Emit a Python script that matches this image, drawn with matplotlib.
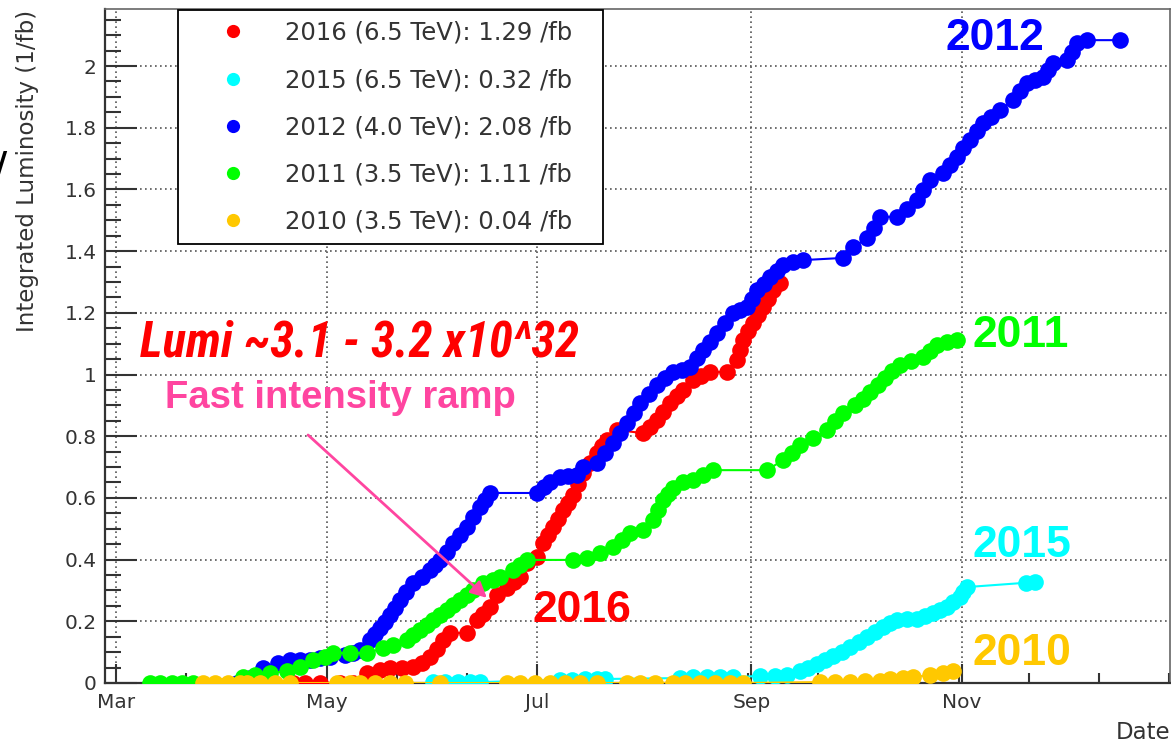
import matplotlib
matplotlib.use('Agg')
import matplotlib.pyplot as plt
from matplotlib.lines import Line2D
from matplotlib.ticker import AutoMinorLocator, MultipleLocator

plt.rcParams['font.family'] = ['DejaVu Sans']

# x = day of year, y = integrated luminosity (1/fb)
day_2016 = [111.3, 114.7, 119.1, 124.9, 128.6, 132.7, 136.5, 139.4, 142.7, 146.0,
            148.5, 150.9, 152.8, 154.7, 156.7, 161.6, 164.5, 166.4, 168.3, 170.3,
            173.2, 175.1, 177.0, 179.0, 181.9, 183.7, 185.1, 186.6, 188.0, 189.4,
            190.8, 192.3, 193.7, 195.2, 197.2, 199.3, 200.7, 202.2, 205.1, 212.6,
            214.6, 216.7, 218.5, 220.4, 222.3, 224.2, 227.1, 229.5, 232.0, 236.9,
            239.8, 240.7, 241.6, 243.0, 244.5, 246.0, 247.4, 248.8, 250.3, 252.3]
lumi_2016 = [0, 0, 0, 0, 0, 0.032, 0.042, 0.049, 0.050, 0.052,
             0.066, 0.084, 0.110, 0.139, 0.162, 0.162, 0.204, 0.225, 0.246, 0.285,
             0.308, 0.326, 0.344, 0.389, 0.408, 0.454, 0.480, 0.506, 0.533, 0.561,
             0.585, 0.609, 0.645, 0.681, 0.713, 0.746, 0.767, 0.788, 0.820, 0.810,
             0.831, 0.853, 0.880, 0.908, 0.929, 0.950, 0.982, 0.995, 1.008, 1.008,
             1.047, 1.080, 1.112, 1.140, 1.167, 1.193, 1.219, 1.246, 1.274, 1.297]

day_2015 = [151.8, 155.3, 159.0, 162.5, 165.4, 188.6, 192.1, 195.8, 199.3, 201.6,
            223.3, 227.1, 231.2, 234.9, 238.7, 246.5, 250.8, 254.3, 258.1, 260.5,
            263.0, 265.3, 267.6, 270.1, 272.6, 275.0, 277.5, 279.8, 282.1, 284.1,
            286.2, 289.1, 292.0, 294.3, 296.6, 298.6, 300.7, 302.5, 304.4, 305.4,
            306.4, 323.5, 326.0]
lumi_2015 = [0.003, 0.003, 0.003, 0.003, 0.003, 0.010, 0.010, 0.013, 0.013, 0.013,
             0.016, 0.019, 0.019, 0.019, 0.019, 0.023, 0.023, 0.026, 0.039, 0.050,
             0.062, 0.075, 0.088, 0.102, 0.117, 0.133, 0.149, 0.165, 0.182, 0.193,
             0.204, 0.206, 0.207, 0.217, 0.227, 0.236, 0.246, 0.262, 0.279, 0.295,
             0.311, 0.325, 0.329]

day_2012 = [95.0, 98.8, 102.6, 106.9, 110.4, 113.3, 116.2, 119.1, 122.0, 126.3,
            128.5, 130.7, 133.6, 135.0, 136.5, 138.0, 139.4, 140.8, 142.2, 144.1,
            146.0, 148.5, 150.9, 152.4, 153.8, 155.7, 157.6, 159.6, 161.6, 163.5,
            165.4, 166.9, 168.3, 181.9, 183.8, 185.7, 188.6, 191.0, 193.5, 195.2,
            199.3, 201.6, 203.9, 206.0, 208.0, 209.9, 211.8, 214.2, 216.7, 219.0,
            221.3, 223.8, 226.2, 228.1, 230.0, 232.0, 234.0, 236.3, 238.7, 240.7,
            242.7, 244.1, 245.6, 247.5, 249.4, 251.3, 253.2, 256.0, 259.0, 270.5,
            273.4, 277.5, 279.4, 281.3, 286.2, 289.1, 292.0, 293.8, 295.7, 299.5,
            301.5, 303.6, 305.4, 307.3, 309.2, 311.1, 313.5, 316.0, 319.8, 321.8,
            323.8, 326.2, 328.5, 329.9, 331.4, 335.4, 336.8, 338.3, 341.2, 350.8]
lumi_2012 = [0, 0.016, 0.049, 0.065, 0.075, 0.075, 0.075, 0.080, 0.084, 0.091,
             0.098, 0.107, 0.139, 0.158, 0.178, 0.199, 0.220, 0.244, 0.269, 0.296,
             0.324, 0.345, 0.366, 0.383, 0.399, 0.425, 0.454, 0.480, 0.506, 0.538,
             0.570, 0.593, 0.616, 0.616, 0.636, 0.652, 0.668, 0.671, 0.674, 0.700,
             0.713, 0.745, 0.778, 0.811, 0.843, 0.876, 0.908, 0.938, 0.966, 0.988,
             1.008, 1.015, 1.024, 1.052, 1.079, 1.107, 1.135, 1.167, 1.199, 1.209,
             1.219, 1.246, 1.274, 1.295, 1.316, 1.336, 1.355, 1.366, 1.371, 1.378,
             1.413, 1.442, 1.476, 1.511, 1.511, 1.538, 1.566, 1.598, 1.630, 1.653,
             1.680, 1.705, 1.733, 1.760, 1.788, 1.815, 1.836, 1.857, 1.890, 1.918,
             1.945, 1.955, 1.964, 1.987, 2.010, 2.019, 2.047, 2.075, 2.084, 2.084]

day_2011 = [69.8, 72.7, 76.2, 79.1, 82.3, 96.8, 100.3, 104.6, 109.5, 113.3,
            117.1, 120.5, 122.8, 127.8, 132.7, 137.3, 140.2, 144.3, 146.1, 148.0,
            149.9, 151.8, 153.8, 155.9, 157.7, 159.6, 161.5, 163.4, 166.3, 169.2,
            171.2, 175.0, 177.0, 179.0, 192.3, 196.4, 200.2, 203.9, 206.4, 208.9,
            212.6, 215.5, 217.0, 218.4, 219.8, 221.3, 224.2, 227.1, 230.0, 232.9,
            248.5, 253.2, 255.6, 258.1, 261.9, 265.9, 268.2, 270.5, 274.0, 276.2,
            278.4, 280.5, 282.7, 284.8, 287.0, 290.3, 293.7, 295.7, 297.8, 300.7,
            303.6]
lumi_2011 = [0, 0, 0, 0, 0, 0.019, 0.026, 0.032, 0.039, 0.052,
             0.075, 0.084, 0.097, 0.097, 0.097, 0.113, 0.123, 0.139, 0.155, 0.172,
             0.188, 0.204, 0.220, 0.237, 0.253, 0.269, 0.285, 0.301, 0.324, 0.334,
             0.344, 0.366, 0.383, 0.399, 0.399, 0.405, 0.421, 0.441, 0.463, 0.486,
             0.496, 0.528, 0.560, 0.593, 0.612, 0.632, 0.652, 0.658, 0.675, 0.690,
             0.690, 0.723, 0.747, 0.771, 0.794, 0.820, 0.848, 0.875, 0.901, 0.922,
             0.943, 0.966, 0.989, 1.010, 1.031, 1.044, 1.057, 1.076, 1.096, 1.104,
             1.112]

day_2010 = [85.2, 88.7, 92.4, 95.9, 97.9, 101.7, 106.0, 110.4, 124.0, 127.8,
            130.7, 135.0, 139.4, 143.7, 153.8, 173.2, 177.0, 181.3, 185.7, 190.0,
            194.4, 199.3, 208.0, 211.8, 216.1, 221.3, 224.8, 229.1, 233.5, 237.8,
            241.6, 263.9, 268.2, 272.6, 276.9, 281.3, 284.2, 287.9, 290.8, 295.7,
            299.5, 302.4]
lumi_2010 = [0, 0, 0, 0, 0, 0, 0, 0, 0, 0,
             0, 0, 0, 0, 0, 0, 0, 0, 0, 0,
             0, 0, 0, 0, 0, 0, 0, 0, 0, 0,
             0, 0.003, 0.003, 0.003, 0.006, 0.006, 0.013, 0.016, 0.019, 0.026,
             0.032, 0.039]

legend_labels = ['2016 (6.5 TeV): 1.29 /fb', '2015 (6.5 TeV): 0.32 /fb',
                 '2012 (4.0 TeV): 2.08 /fb', '2011 (3.5 TeV): 1.11 /fb',
                 '2010 (3.5 TeV): 0.04 /fb']
year_labels = ['2016', '2015', '2012', '2011', '2010']
colors = ['#ff0000', '#00ffff', '#0000ff', '#00ff00', '#ffc800']

month_days = [60, 121, 182, 244, 305]
month_labels = ['Mar', 'May', 'Jul', 'Sep', 'Nov']
ytick_values = [0, 0.2, 0.4, 0.6, 0.8, 1.0, 1.2, 1.4, 1.6, 1.8, 2.0]
ytick_labels = ['0', '0.2', '0.4', '0.6', '0.8', '1', '1.2', '1.4', '1.6', '1.8', '2']

days = [day_2016, day_2015, day_2012, day_2011, day_2010]
lumis = [lumi_2016, lumi_2015, lumi_2012, lumi_2011, lumi_2010]

fig = plt.figure(figsize=(11.71, 7.44), dpi=100)
ax = fig.add_axes([105 / 1171, 61 / 744, 1065 / 1171, 674 / 744])

for i, (d, l, c) in enumerate(zip(days, lumis, colors)):
    ax.plot(d, l, '-o', color=c, lw=1.5, ms=12, mew=0, zorder=3 + i)

ax.set_xlim(56.8, 365.2)
ax.set_ylim(0, 2.185)
ax.set_xticks(month_days)
ax.set_xticklabels(month_labels)
ax.set_yticks(ytick_values)
ax.set_yticklabels(ytick_labels)
ax.xaxis.set_minor_locator(AutoMinorLocator(3))
ax.yaxis.set_minor_locator(MultipleLocator(0.05))

ax.tick_params(axis='both', which='both', direction='in', colors='#333333',
               labelsize=14.5, width=1.5)
ax.tick_params(axis='x', which='major', length=14, pad=7)
ax.tick_params(axis='x', which='minor', length=7)
ax.tick_params(axis='y', which='major', length=23, pad=6)
ax.tick_params(axis='y', which='minor', length=11.5)

ax.grid(True, which='major', color='#555555', linestyle=(0, (1, 2)), lw=1.2)
ax.set_axisbelow(True)
for side in ['left', 'bottom']:
    ax.spines[side].set_linewidth(1.6)
    ax.spines[side].set_color('#333333')
for side in ['top', 'right']:
    ax.spines[side].set_linewidth(1.2)
    ax.spines[side].set_color('#666666')

ax.set_ylabel('Integrated Luminosity (1/fb)', fontsize=16.5, color='#333333', loc='top')
ax.yaxis.set_label_coords(-0.073, 0.999)
ax.yaxis.label.set_va('center')
ax.set_xlabel('Date', fontsize=16.5, color='#333333', loc='right')
ax.xaxis.set_label_coords(1.0, -0.056)

handles = [Line2D([], [], ls='none', marker='o', color=c, ms=9.5, mew=0) for c in colors]
leg = ax.legend(handles, legend_labels, loc='upper left',
                bbox_to_anchor=(0.0685, 0.653, 0.399, 0.3455), mode='expand',
                borderaxespad=0, fontsize=17.5, labelspacing=0.95, handlelength=3.6,
                handletextpad=0.35, borderpad=0.45, fancybox=False, framealpha=1,
                edgecolor='black')
leg.get_frame().set_linewidth(1.3)
leg.set_zorder(10)
for t in leg.get_texts():
    t.set_color('#333333')

# year tags at the end of each curve
tag_pos = [(180.5, 0.198), (307.9, 0.408), (300.1, 2.052), (307.9, 1.089), (307.9, 0.058)]
for (x, y), txt, c in zip(tag_pos, year_labels, colors):
    ax.text(x, y, txt, color=c, fontsize=32, fontweight='bold',
            family='Liberation Sans', va='baseline', ha='left', zorder=12)

ax.text(67.0, 1.057, 'Lumi ~3.1 - 3.2 x10^32', color='#ff0000', fontsize=35,
        fontweight='bold', fontstyle='italic',
        family=['Liberation Sans Narrow', 'Roboto Condensed', 'DejaVu Sans Condensed',
                'Liberation Sans'],
        va='baseline', zorder=12)
ax.text(74.2, 0.891, 'Fast intensity ramp', color='#ff45a0', fontsize=27.5,
        fontweight='bold', family='Liberation Sans', va='baseline', zorder=12)
ax.annotate('', xy=(167.4, 0.276), xytext=(115.6, 0.804),
            arrowprops=dict(arrowstyle='-|>', color='#ff45a0', lw=2,
                            mutation_scale=24, shrinkA=0, shrinkB=0), zorder=12)

fig.text(-0.004, 1 - 176 / 744, '/', fontsize=24, fontweight='bold', color='black')

fig.savefig('out.png', dpi=100)
